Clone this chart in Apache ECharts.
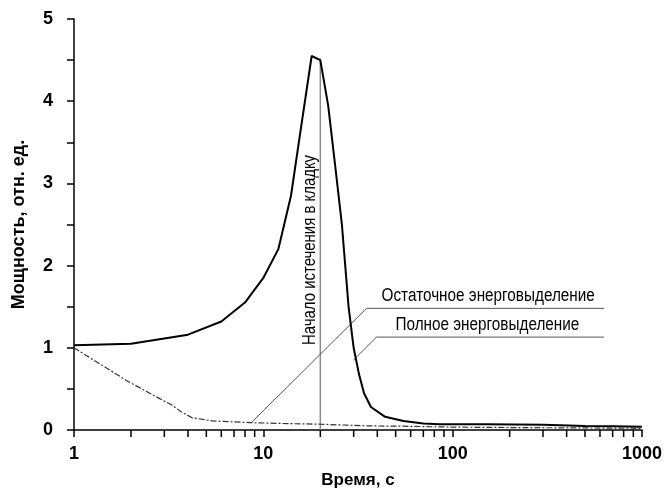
<!DOCTYPE html>
<html><head><meta charset="utf-8">
<script src="https://cdn.jsdelivr.net/npm/echarts@6/dist/echarts.min.js"></script>
<style>html,body{margin:0;padding:0;background:#fff}#c{width:665px;height:497px}</style>
</head><body><div id="c"></div>
<script>
// Data (time in seconds, power in relative units)
const timeFull  = [1, 2, 4, 6, 8, 10, 12, 14, 15.4, 18, 20, 22, 24, 26, 28.2, 30, 32, 34, 37, 44, 55, 70, 85, 150, 300, 500, 700, 1000];
const powerFull = [1.03, 1.05, 1.16, 1.32, 1.55, 1.85, 2.2, 2.85, 3.5, 4.55, 4.5, 3.95, 3.2, 2.5, 1.5, 1.0, 0.68, 0.45, 0.28, 0.16, 0.11, 0.08, 0.07, 0.07, 0.065, 0.05, 0.045, 0.04];
const timeRes   = [1, 1.9, 2.5, 3.3, 3.7, 4.2, 5.4, 8.5, 12, 20, 36, 60, 100, 200, 500, 1000];
const powerRes  = [1.0, 0.6, 0.45, 0.3, 0.22, 0.15, 0.11, 0.09, 0.08, 0.07, 0.05, 0.045, 0.035, 0.03, 0.025, 0.02];
const markerX = [20, 20];
const markerY = [0, 4.52];
const leaderResX = [8.6, 35.1, 631];
const leaderResY = [0.085, 1.48, 1.48];
const leaderFullX = [29.9, 39.6, 631];
const leaderFullY = [0.85, 1.13, 1.13];
const minorTicks = [2,3,4,5,6,7,8,9,20,30,40,50,60,70,80,90,200,300,400,500,600,700,800,900];
const xTickLabels = ['1','10','100','1000'];
const yTickLabels = ['0','1','2','3','4','5'];
const labelRes = 'Остаточное энерговыделение';
const labelFull = 'Полное энерговыделение';
const labelMarker = 'Начало истечения в кладку';
const xName = 'Время, с';
const yName = 'Мощность, отн. ед.';

const FONT = "'Liberation Sans Narrow', 'Liberation Sans', Arial, sans-serif";
const zip = (a, b) => a.map((v, i) => [v, b[i]]);

const chart = echarts.init(document.getElementById('c'), null, {renderer: 'canvas'});
chart.setOption({
  backgroundColor: '#fff',
  animation: false,
  grid: {left: 74, right: 20, top: 19, bottom: 67, containLabel: false},
  xAxis: {
    type: 'log', logBase: 10, min: 1, max: 1000,
    name: xName, nameLocation: 'middle', nameGap: 42,
    nameTextStyle: {fontFamily: FONT, fontWeight: 'bold', fontSize: 17, color: '#000'},
    axisLine: {lineStyle: {color: '#000', width: 1.5}},
    axisTick: {show: true, length: 7, lineStyle: {color: '#000', width: 1.5}},
    axisLabel: {margin: 15, fontFamily: FONT, fontWeight: 'bold', fontSize: 18, color: '#000',
      formatter: v => { const s = String(Math.round(v)); return xTickLabels.includes(s) ? s : ''; }},
    splitLine: {show: false}
  },
  yAxis: {
    type: 'value', min: 0, max: 5, interval: 0.5,
    name: yName, nameLocation: 'middle', nameGap: 46, nameRotate: 90,
    nameTextStyle: {fontFamily: FONT, fontWeight: 'bold', fontSize: 18, color: '#000'},
    axisLine: {show: true, lineStyle: {color: '#000', width: 1.5}},
    axisTick: {show: true, length: 7, lineStyle: {color: '#000', width: 1.5}},
    axisLabel: {margin: 21, fontFamily: FONT, fontWeight: 'bold', fontSize: 18, color: '#000',
      formatter: v => { const s = String(v); return yTickLabels.includes(s) ? s : ''; }},
    splitLine: {show: false}
  },
  series: [
    {type: 'line', data: zip(markerX, markerY), symbol: 'none', silent: true,
     lineStyle: {color: '#8a8a8a', width: 1.5}, z: 1},
    {type: 'line', data: zip(leaderResX, leaderResY), symbol: 'none', silent: true,
     lineStyle: {color: '#555', width: 1}, z: 1},
    {type: 'line', data: zip(leaderFullX, leaderFullY), symbol: 'none', silent: true,
     lineStyle: {color: '#555', width: 1}, z: 1},
    {type: 'line', data: zip(timeRes, powerRes), symbol: 'none', silent: true,
     lineStyle: {color: '#333', width: 1.2, type: [6, 2, 2, 2]}, z: 2},
    {type: 'line', data: zip(timeFull, powerFull), symbol: 'none', silent: true,
     lineStyle: {color: '#000', width: 2}, z: 3},
    {type: 'custom', silent: true, clip: false, z: 4,
     data: minorTicks.map(v => [v, 0]),
     renderItem: (params, api) => {
       const p = api.coord([api.value(0), 0]);
       return {type: 'line', shape: {x1: p[0], y1: p[1], x2: p[0], y2: p[1] + 7},
               style: {stroke: '#000', lineWidth: 1.5}};
     }}
  ]
});

// Text annotations anchored via the chart's own coordinate conversion
function place() {
  const pRes = chart.convertToPixel({gridIndex: 0}, [leaderResX[1], leaderResY[1]]);
  const pFull = chart.convertToPixel({gridIndex: 0}, [leaderFullX[1], leaderFullY[1]]);
  const pMark = chart.convertToPixel({gridIndex: 0}, [markerX[0], 2.19]);
  chart.setOption({graphic: [
    {type: 'text', x: pRes[0] + 15, y: pRes[1] - 3, scaleX: 0.85,
     style: {text: labelRes, font: "18px " + FONT, fill: '#000', align: 'left', verticalAlign: 'bottom'}},
    {type: 'text', x: pFull[0] + 19, y: pFull[1] - 3, scaleX: 0.85,
     style: {text: labelFull, font: "18px " + FONT, fill: '#000', align: 'left', verticalAlign: 'bottom'}},
    {type: 'text', x: pMark[0] - 10, y: pMark[1], rotation: Math.PI / 2, scaleX: 0.83,
     style: {text: labelMarker, font: "18px " + FONT, fill: '#000', align: 'center', verticalAlign: 'middle'}}
  ]});
}
place();
</script></body></html>
